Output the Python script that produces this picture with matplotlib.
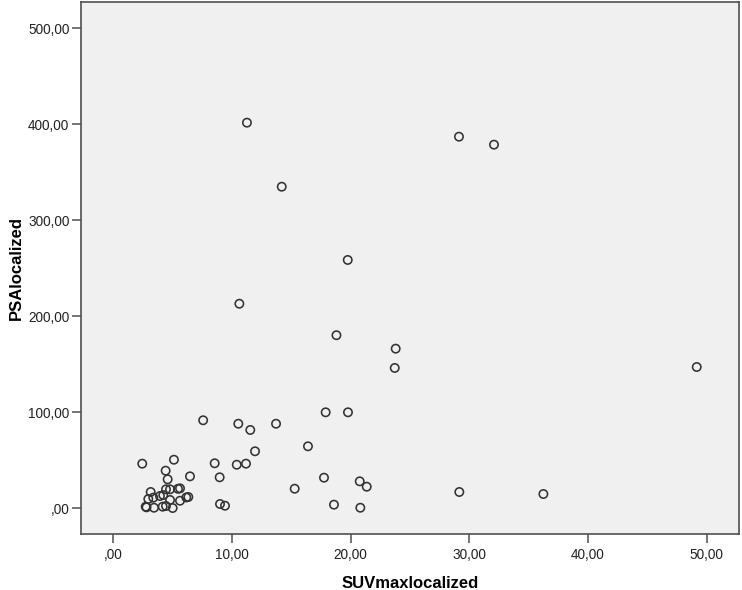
'''
SPSS-style scatter: PSAlocalized vs SUVmaxlocalized
'''

# loads
import matplotlib
matplotlib.use("Agg")
import matplotlib.pyplot as plt
from matplotlib.ticker import FuncFormatter, MultipleLocator

# data
suv_max = [11.26, 14.19, 19.75, 10.62, 29.12, 32.07, 23.79, 23.71, 49.15, 18.80,
           7.57, 10.53, 11.54, 13.71, 17.89, 19.77, 16.40, 11.94, 8.54, 10.40,
           11.18, 8.96, 17.75, 20.76, 21.35, 15.28, 8.99, 9.41, 18.59, 20.81,
           29.15, 36.23,
           2.44, 5.11, 4.41, 4.58, 6.46, 3.15, 4.44, 4.78, 5.45, 5.62,
           3.93, 4.21, 2.95, 3.37, 4.78, 5.62, 6.32, 6.15, 2.73, 2.80,
           3.43, 4.16, 4.44, 5.00]
psa = [401.9, 335.2, 258.9, 213.3, 387.3, 379.0, 166.5, 146.4, 147.4, 180.5,
       91.9, 88.3, 81.8, 88.3, 100.2, 100.2, 64.8, 59.6, 47.1, 45.6,
       46.7, 32.5, 32.1, 28.3, 22.7, 20.6, 4.7, 2.9, 4.0, 0.8,
       17.2, 15.1,
       46.7, 50.8, 39.4, 30.4, 33.5, 17.2, 20.0, 20.0, 20.5, 21.0,
       13.0, 14.0, 9.9, 11.3, 8.9, 8.1, 12.0, 11.5, 1.9, 1.2,
       0.8, 1.9, 2.6, 0.5]

x_label = "SUVmaxlocalized"
y_label = "PSAlocalized"

plt.rcParams['font.family'] = ['Liberation Sans', 'DejaVu Sans']

def comma_fmt(v, pos):
    s = f"{v:.2f}".replace('.', ',')
    if s.startswith("0,"):
        s = s[1:]
    return s

# plot
fig = plt.figure(figsize=(7.42, 5.90), dpi=100)
ax = fig.add_axes([81/742, 1 - 533.7/590, (739 - 81)/742, (533.7 - 2)/590])
ax.set_facecolor("#F0F0F0")

ax.scatter(suv_max, psa, s=36, facecolors="none", edgecolors="#333333",
           linewidths=1.15, zorder=3)

ax.set_xlim(-2.72, 52.71)
ax.set_ylim(-26.25, 527.6)
ax.xaxis.set_major_locator(MultipleLocator(10))
ax.yaxis.set_major_locator(MultipleLocator(100))
ax.xaxis.set_major_formatter(FuncFormatter(comma_fmt))
ax.yaxis.set_major_formatter(FuncFormatter(comma_fmt))

for side in ax.spines.values():
    side.set_color("#505050")
    side.set_linewidth(1.2)

ax.tick_params(axis='both', which='major', direction='out', length=6.3,
               width=1.1, color="#505050", labelsize=9.8, labelcolor="#222222")
ax.tick_params(axis='y', pad=2)
ax.tick_params(axis='x', pad=4)

ax.set_xlabel(x_label, size=12, fontweight='bold', labelpad=10)
ax.set_ylabel(y_label, size=12, fontweight='bold', labelpad=3)

plt.savefig("out.png", dpi=100)
